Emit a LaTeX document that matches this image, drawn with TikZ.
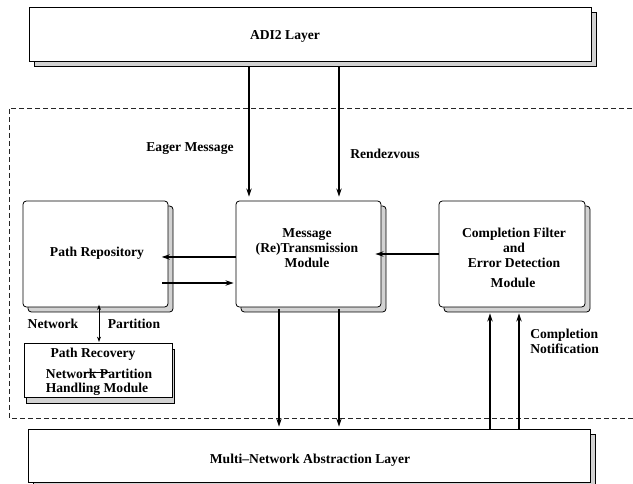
\documentclass[tikz,border=0pt]{standalone}
\usepackage{fontspec}
\setmainfont{Liberation Serif}
\usepackage{tikz}
\usetikzlibrary{arrows.meta,shadows}

\begin{document}
\begin{tikzpicture}[x=0.75pt,y=-0.75pt,
  every node/.style={font=\fontsize{10.2}{11.25}\selectfont\bfseries,inner sep=0pt},
  layer/.style={draw,line width=0.6pt,fill=white,minimum width=421.5pt,minimum height=40.5pt,
    copy shadow={fill=gray!35,draw=black,shadow xshift=3.75pt,shadow yshift=-3.75pt}},
  module/.style={draw,line width=0.6pt,fill=white,rounded corners=2.5pt,minimum height=79.5pt,
    copy shadow={fill=gray!35,draw=black,shadow xshift=3.75pt,shadow yshift=-3.75pt}},
  recbox/.style={draw,line width=0.6pt,fill=white,minimum width=111pt,minimum height=40.5pt,
    copy shadow={fill=gray!35,draw=black,shadow xshift=1.5pt,shadow yshift=-4.5pt}},
  arr/.style={line width=1.1pt,-{Stealth[length=6pt,width=4pt]}},
  groupline/.style={line width=0.6pt,black!85,dash pattern=on 3.5pt off 2.5pt}]
  \useasboundingbox (0,0) rectangle (633,484);
  \draw[groupline] (640,108) -- (9,108) -- (9,418) -- (640,418);
  \node[layer] (adi) at (310,34) {};
  \node (adilabel) at (285,36) {ADI2 Layer};
  \node[layer,minimum height=39.75pt] (mnal) at (309,455.5) {};
  \node (mnallabel) at (310,460) {Multi--Network Abstraction Layer};
  \node[module,minimum width=108.75pt] (repo) at (95.5,254) {};
  \node (repolabel) at (97,253) {Path Repository};
  \node[module,minimum width=108.75pt] (msg) at (308.5,254) {};
  \node[align=center] (msglabel) at (307,248) {Message\\(Re)Transmission\\Module};
  \node[module,minimum width=109.5pt] (cmp) at (512,254) {};
  \node[align=center] (cmplabel) at (514,248) {Completion Filter\\and\\Error Detection};
  \node (cmpmodule) at (513,283) {Module};
  \node[recbox] (rec) at (98,370) {};
  \node (reclabel) at (93,354) {Path Recovery};
  \node (netpart) at (99,374) {Network Partition};
  \node (handling) at (97,389) {Handling Module};
  \draw[line width=0.6pt] (84,372) -- (110,372);
  \coordinate (e1) at (249,0);
  \coordinate (e2) at (339,0);
  \coordinate (d1) at (279,0);
  \coordinate (d2) at (339,0);
  \coordinate (u1) at (490,0);
  \coordinate (u2) at (519,0);
  \coordinate (h1) at (0,257);
  \coordinate (h2) at (0,283);
  \coordinate (h3) at (0,254);
  \coordinate (v1) at (99,0);
  \draw[arr,shorten <=4pt,shorten >=3pt] (adi.south -| e1) -- (msg.north -| e1);
  \draw[arr,shorten <=4pt,shorten >=3pt] (adi.south -| e2) -- (msg.north -| e2);
  \draw[arr,shorten >=-5pt] (msg.west |- h1) -- (repo.east |- h1);
  \draw[arr,shorten <=-4.5pt,shorten >=1.5pt] (repo.east |- h2) -- (msg.west |- h2);
  \draw[arr,shorten >=-4.5pt] (cmp.west |- h3) -- (msg.east |- h3);
  \draw[arr,shorten <=1pt,shorten >=1.5pt] (msg.south -| d1) -- (mnal.north -| d1);
  \draw[arr,shorten <=1pt,shorten >=1.5pt] (msg.south -| d2) -- (mnal.north -| d2);
  \draw[arr] (mnal.north -| u1) -- ([yshift=-4.5pt]cmp.south -| u1);
  \draw[arr] (mnal.north -| u2) -- ([yshift=-4.5pt]cmp.south -| u2);
  \draw[line width=0.6pt,{Stealth[length=4pt,width=3pt]}-{Stealth[length=4pt,width=3pt]},shorten <=-2pt,shorten >=0.5pt] (repo.south -| v1) -- (rec.north -| v1);
  \node (eager) at (190,149) {Eager Message};
  \node[anchor=west] (rendez) at (350,154) {Rendezvous};
  \node (netlbl) at (53,324) {Network};
  \node (partlbl) at (134,324) {Partition};
  \node[anchor=west,align=left] (notif) at (530,341) {Completion\\Notification};
\end{tikzpicture}
\end{document}
